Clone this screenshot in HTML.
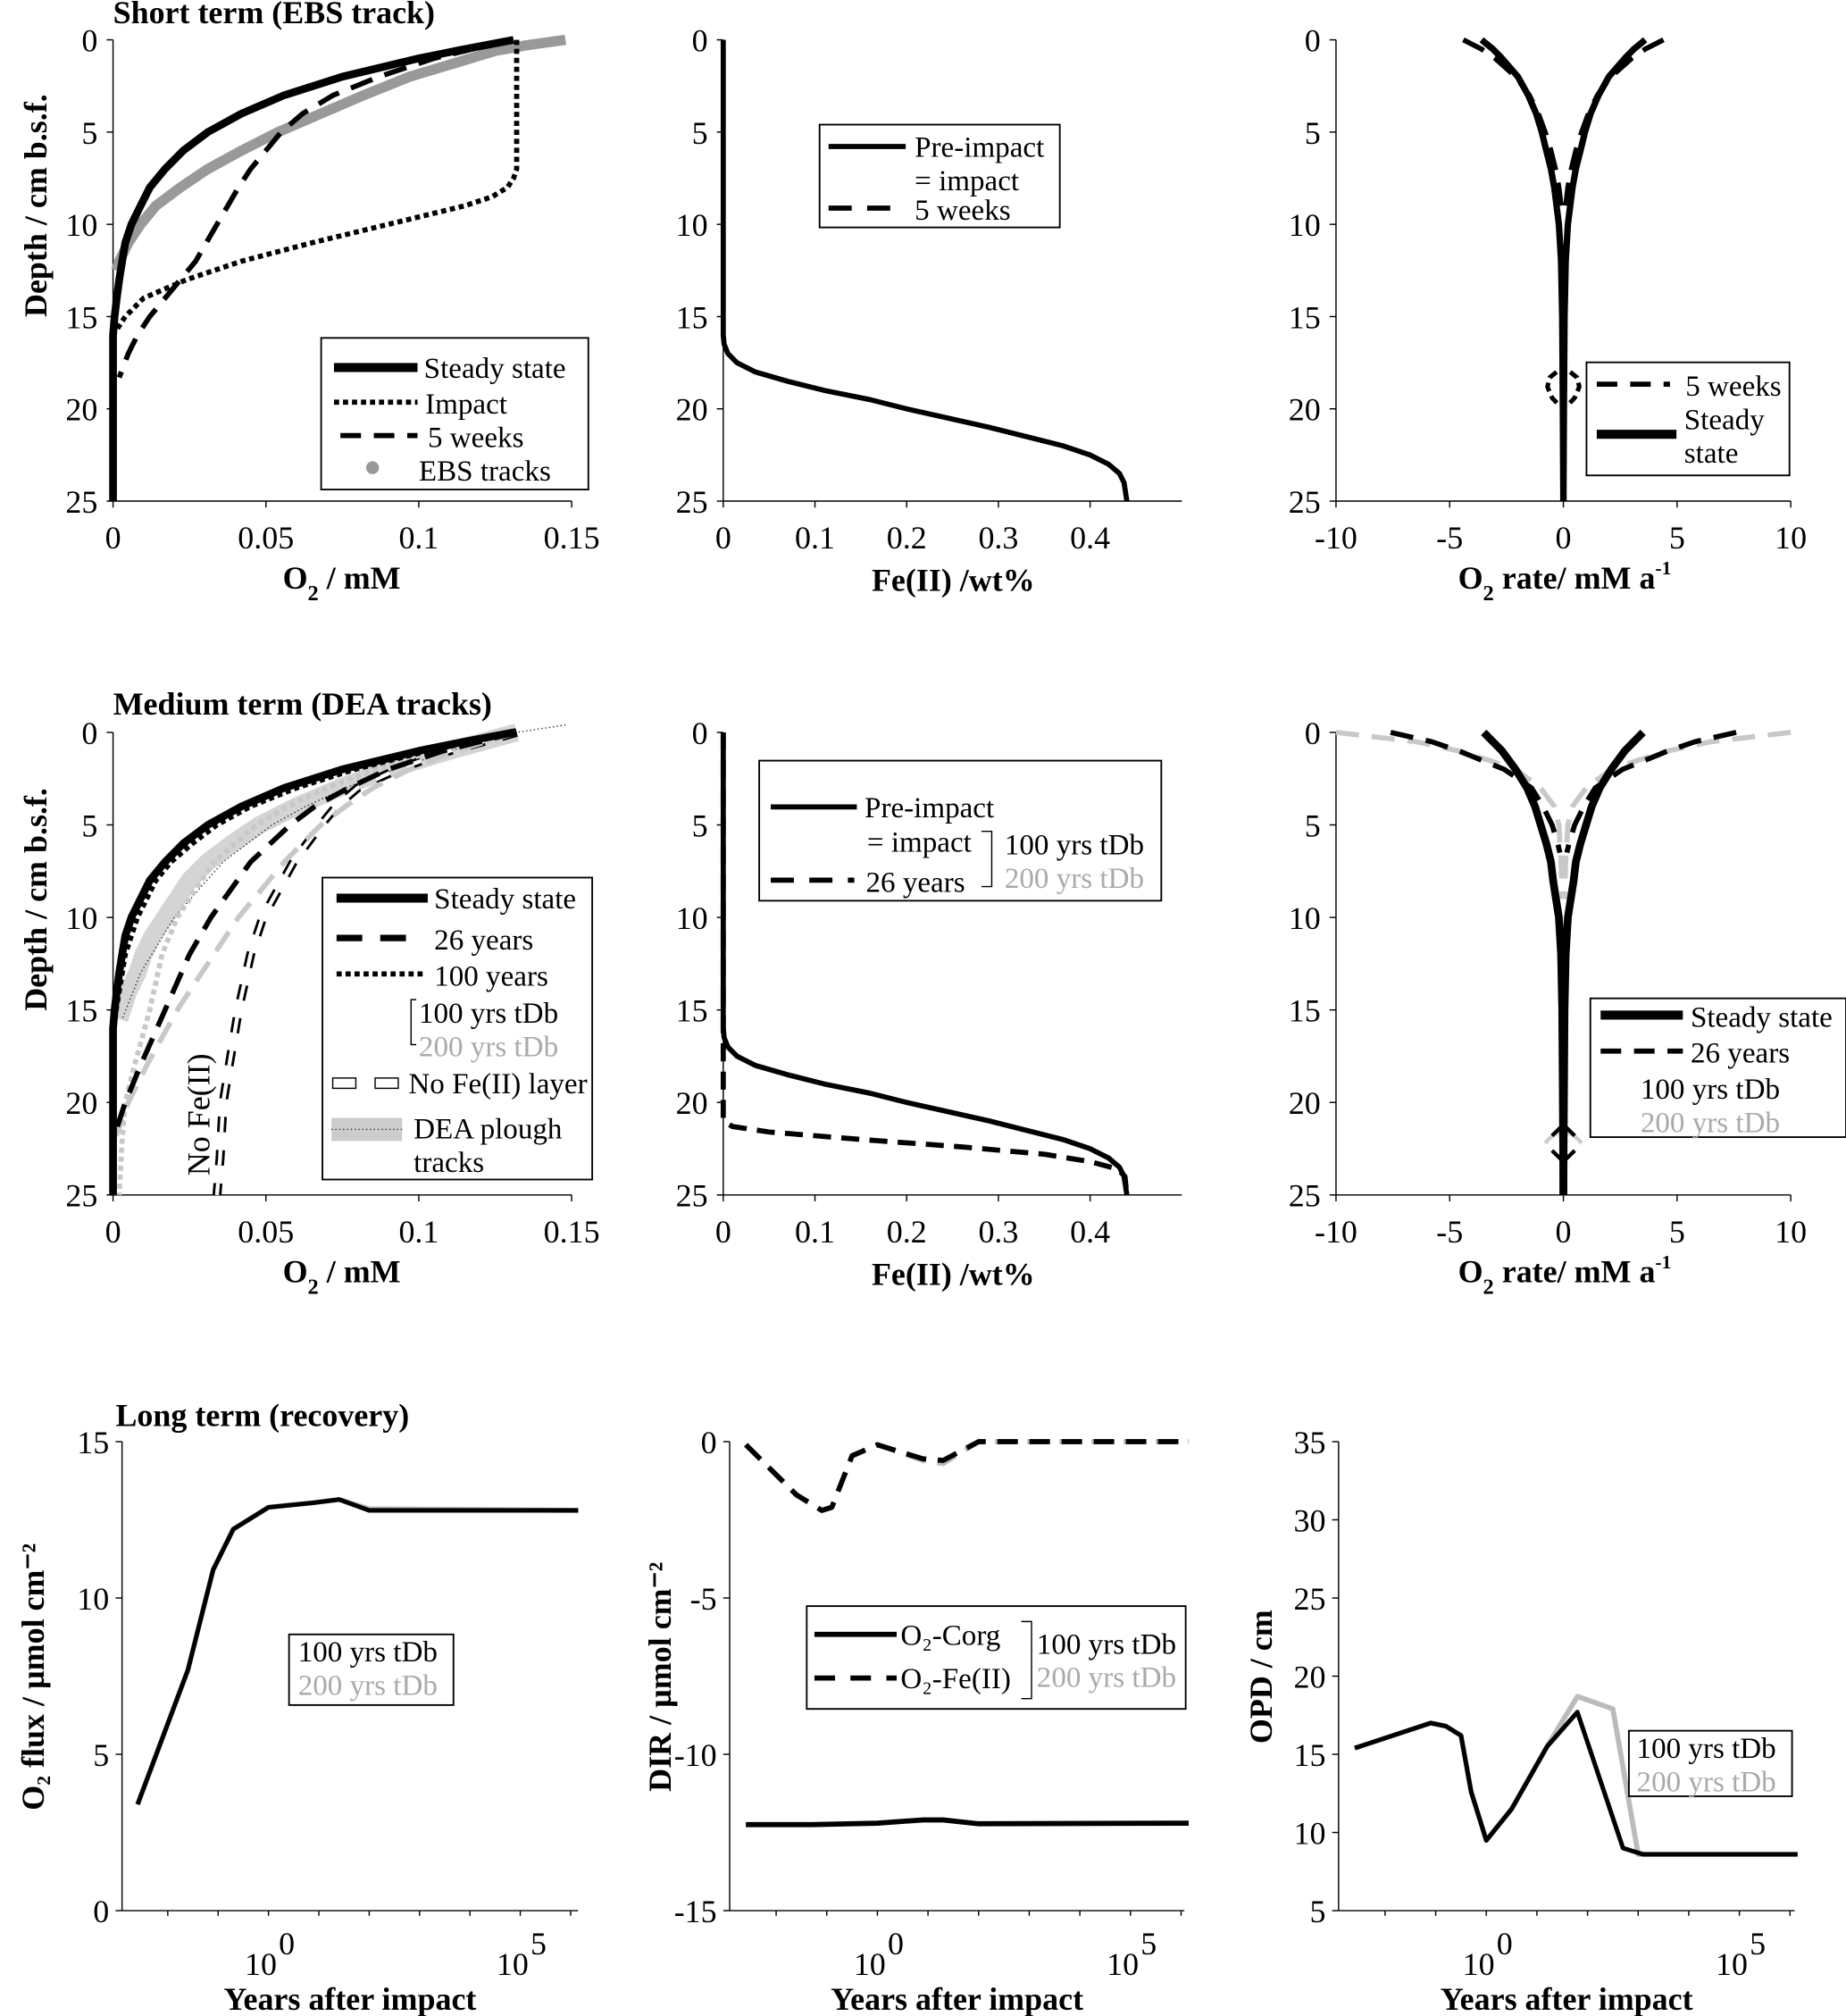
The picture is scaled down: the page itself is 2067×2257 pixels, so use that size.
<!DOCTYPE html>
<html><head><meta charset="utf-8">
<style>
html,body{margin:0;padding:0;background:#fff;}
svg{display:block;font-family:"Liberation Serif",serif;}
.tk{font-size:25px;}
.lab{font-size:25px;font-weight:bold;}
.lg{font-size:23px;}
</style></head>
<body>
<svg id="fig" width="2067" height="2257" viewBox="0 0 1437 1569" preserveAspectRatio="none" xmlns="http://www.w3.org/2000/svg"></svg>
<script>
// ---------- DATA ----------
const aSteadyDepth=[0,0.5,1,2,3,4,5,6,7,8,9,10,11,12,13,14,15,16,25];
const aSteadyO2=[0.131,0.115,0.1,0.075,0.056,0.042,0.031,0.023,0.017,0.012,0.009,0.006,0.004,0.003,0.002,0.0012,0.0005,0,0];
const aImpactDepth=[0,2,4,6,7,7.5,8,8.5,9,10,11,12,13,14,15,15.5,16];
const aImpactO2=[0.132,0.132,0.132,0.132,0.132,0.131,0.129,0.124,0.115,0.09,0.065,0.042,0.024,0.01,0.004,0.002,0];
const a5wDepth=[0,1,2,3,4,5,6,7,8,10,12,13,14,15,16,17,18.3];
const a5wO2=[0.13,0.105,0.087,0.072,0.062,0.055,0.05,0.045,0.041,0.034,0.027,0.022,0.017,0.012,0.008,0.005,0.002];
const aEbsDepth=[0,0.3,0.6,1,2,3,4,5,6,7,8,9,10,11,12,12.5];
const aEbsO2=[0.148,0.135,0.125,0.117,0.097,0.082,0.068,0.054,0.042,0.031,0.022,0.014,0.009,0.005,0.002,0.001];
const feDepth=[0,10,16,16.5,17,17.5,18,18.5,19,19.5,20,20.5,21,21.5,22,22.5,23,23.5,24,25];
const fePre=[0,0,0,0.001,0.005,0.015,0.035,0.07,0.11,0.16,0.2,0.245,0.29,0.33,0.37,0.4,0.42,0.432,0.437,0.44];
const fe26Depth=[0,10,20,21,21.3,21.6,22,22.4,22.8,23.2,23.6,24,25];
const fe26=[0,0,0,0,0.01,0.05,0.15,0.26,0.35,0.4,0.43,0.438,0.44];
const cDepth=[0,0.5,1,2,3,4,5,6,7,8,10,12,15,20,25];
const cSteady=[3.6,3.1,2.7,2.0,1.55,1.2,0.95,0.75,0.55,0.4,0.2,0.1,0.05,0.02,0];
const c5wDepth=[0,0.5,1,2,3,4,5,6,7,8,9];
const c5w=[4.4,3.6,3.0,2.1,1.5,1.1,0.8,0.55,0.35,0.2,0.1];
const cLoopDepth=[18,18.3,18.8,19.4,19.8];
const cLoop=[0.3,0.6,0.7,0.5,0.2];
const dSteadyDepth=aSteadyDepth, dSteadyO2=aSteadyO2;
const d100Depth=[0,1,2,3,4,5,6,7,8,10,12,14,16];
const d100O2=[0.132,0.103,0.079,0.06,0.045,0.034,0.026,0.019,0.014,0.008,0.004,0.002,0];
const d26Depth=[0,1,2,3,4,5,7,10,12,15,18,20,21.5];
const d26O2=[0.132,0.108,0.09,0.077,0.066,0.058,0.045,0.032,0.025,0.017,0.009,0.004,0.001];
const d26gDepth=[0,1,2,3,4,5,7,10,12,15,18,20,21.8];
const d26gO2=[0.132,0.112,0.097,0.085,0.076,0.068,0.056,0.041,0.033,0.021,0.011,0.005,0.001];
const d100gDepth=[0,1,2,3,4,5,7,10,12,15,18,20,22,25];
const d100gO2=[0.132,0.105,0.086,0.07,0.057,0.047,0.033,0.021,0.016,0.012,0.007,0.004,0.003,0.002];
const dNoFeDepth=[0,1,2,3,4,5,7,10,12,15,18,20,23,25];
const dNoFeO2=[0.132,0.11,0.093,0.08,0.073,0.068,0.059,0.049,0.045,0.041,0.038,0.036,0.035,0.034];
const dDeaDepth=[0,1,2,3,4,5,6,7,8,9,10,11,12,13,14,15,15.5];
const dDeaO2=[0.132,0.11,0.09,0.074,0.06,0.048,0.039,0.031,0.025,0.021,0.017,0.013,0.01,0.008,0.005,0.003,0.002];
const dDeaThinDepth=[-0.4,0,1,2,3,4,5,7,10,13,15.5];
const dDeaThinO2=[0.148,0.132,0.11,0.092,0.076,0.063,0.052,0.036,0.02,0.009,0.003];
const fSteadyDepth=[0,1,2,3,4,5,6,7,8,10,12,15,20,25];
const fSteady=[3.5,2.7,2.1,1.6,1.25,1.0,0.75,0.55,0.45,0.2,0.1,0.05,0.02,0];
const f26Depth=[0,0.5,1,1.5,2,3,4,5,6,6.5];
const f26=[7.6,5.8,4.6,3.6,2.6,1.4,0.9,0.5,0.25,0.15];
const f26gDepth=[0,0.5,1,1.5,2,3,4,5,6,7,9];
const f26g=[10,6.5,4.6,3.3,2.1,1.0,0.4,0.2,0.15,0.1,0.05];
const logYears=[-2.6,-1.6,-1.1,-0.7,0,0.9,1.4,2.0,6.15];
const fluxBlack=[3.4,7.7,10.9,12.2,12.9,13.05,13.15,12.8,12.8];
const fluxGrey=[3.4,7.7,10.9,12.2,12.9,13.05,13.15,12.85,12.8];
const dirLogYears=[-2.6,-1.6,-1.1,-0.9,-0.5,0,0.9,1.3,2.0,6.15];
const dirFe=[-0.1,-1.7,-2.2,-2.1,-0.45,-0.1,-0.55,-0.6,0,0];
const dirFeGrey=[-0.1,-1.7,-2.2,-2.1,-0.45,-0.1,-0.6,-0.7,0,0];
const dirCorgLog=[-2.6,-1.3,0,0.9,1.3,2.0,6.15];
const dirCorg=[-12.25,-12.25,-12.2,-12.1,-12.1,-12.22,-12.2];
const opdLog=[-2.6,-1.1,-0.8,-0.5,-0.3,0,0.5,1.2,1.8,2.7,3.1,6.15];
const opdBlack=[15.4,17.0,16.8,16.2,12.6,9.5,11.5,15.5,17.7,9.0,8.6,8.6];
const opdGreyLog=[-2.6,-1.1,-0.8,-0.5,-0.3,0,0.5,1.2,1.8,2.5,3.0,6.15];
const opdGrey=[15.4,17.0,16.8,16.2,12.6,9.5,11.5,15.5,18.7,17.9,8.6,8.6];
const o2Ticks=["0","0.05","0.1","0.15"];
const feTicks=["0","0.1","0.2","0.3","0.4"];
const rateTicks=["-10","-5","0","5","10"];
const depthTicks=["0","5","10","15","20","25"];
const fluxTicks=["15","10","5","0"];
const dirTicks=["0","-5","-10","-15"];
const opdTicks=["35","30","25","20","15","10","5"];

// ---------- HELPERS ----------
const NS="http://www.w3.org/2000/svg";
const svg=document.getElementById('fig');
function el(tag,attrs,parent){const e=document.createElementNS(NS,tag);for(const k in attrs)e.setAttribute(k,attrs[k]);(parent||svg).appendChild(e);return e;}
function txt(x,y,s,cls,extra,parent){const t=el('text',Object.assign({x:x,y:y,class:cls},extra||{}),parent);t.textContent=s;return t;}
function rich(x,y,parts,cls,extra,parent){
  const t=el('text',Object.assign({x:x,y:y,class:cls},extra||{}),parent);
  parts.forEach(p=>{const s=el('tspan',{},t);s.textContent=p[0];
    if(p[1]==='sub'){s.setAttribute('dy','9');s.setAttribute('font-size','17');}
    else if(p[1]==='sup'){s.setAttribute('dy','-11');s.setAttribute('font-size','15');}
    else if(p[1]==='back'){s.setAttribute('dy','-9');}
    else if(p[1]==='back2'){s.setAttribute('dy','11');}
  });
  return t;
}
function lin(d0,d1,p0,p1){return v=>p0+(v-d0)/(d1-d0)*(p1-p0);}
function path(xs,ys,fx,fy,style,name){
  let d='';for(let i=0;i<xs.length;i++){d+=(i?'L':'M')+fx(xs[i]).toFixed(1)+','+fy(ys[i]).toFixed(1);}
  const p=el('path',Object.assign({d:d,fill:'none','stroke-linejoin':'round'},style));
  
  
  return p;
}
function g(name){const e=el('g',{});return e;}
function profileAxes(gp,x0,x1,y0,y1,xt,xlabels){
  el('line',{x1:x0,y1:y0,x2:x0,y2:y1,stroke:'#000','stroke-width':1},gp);
  el('line',{x1:x0,y1:y1,x2:x1,y2:y1,stroke:'#000','stroke-width':1},gp);
  depthTicks.forEach((t,i)=>{const y=y0+i*(y1-y0)/5;el('line',{x1:x0-5,y1:y,x2:x0,y2:y,stroke:'#000'},gp);txt(x0-12,y+9,t,'tk',{'text-anchor':'end'},gp);});
  xt.forEach((px,i)=>{el('line',{x1:px,y1:y1,x2:px,y2:y1+5,stroke:'#000'},gp);txt(px,y1+37,xlabels[i],'tk',{'text-anchor':'middle'},gp);});
}
function dlab(x,y){const gl=el('text',{x:0,y:0,class:'lab',transform:`translate(${x},${y}) rotate(-90)`,'text-anchor':'middle'});gl.textContent='Depth / cm b.s.f.';return gl;}
function box(x,y,w,h,parent){el('rect',{x:x,y:y,width:w,height:h,fill:'#fff',stroke:'#000','stroke-width':1.3},parent);}
function o2lab(cx,y,parent){const t=rich(cx,y,[['O'],['2','sub'],[' / mM','back']],'lab',{'text-anchor':'middle'},parent);}
function ratelab(cx,y,parent){const t=rich(cx,y,[['O'],['2','sub'],[' rate/ mM a','back'],['-1','sup']],'lab',{'text-anchor':'middle'},parent);}

const SOLID={stroke:'#000','stroke-width':5};
const DOT={stroke:'#000','stroke-width':4,'stroke-dasharray':'4 3'};
const DASH={stroke:'#000','stroke-width':4,'stroke-dasharray':'18 10'};
const GDASH={stroke:'#c8c8c8','stroke-width':4,'stroke-dasharray':'18 10'};
const GDOT={stroke:'#c8c8c8','stroke-width':4,'stroke-dasharray':'4 3'};

// ---------- ROW 1 ----------
let Y0=31,Y1=390;
let gA=g('panel-short-term-o2');
let fxA=lin(0,0.15,88,445), fyA=lin(0,25,Y0,Y1);
txt(88,18,'Short term (EBS track)','lab',{'font-size':'23'},gA);
profileAxes(gA,88,445,Y0,Y1,[0,0.05,0.1,0.15].map(fxA),o2Ticks);
path(aEbsO2,aEbsDepth,fxA,fyA,{stroke:'#999','stroke-width':8},'series-ebs-tracks');
path(aImpactO2,aImpactDepth,fxA,fyA,DOT,'series-impact');
path(a5wO2,a5wDepth,fxA,fyA,DASH,'series-5-weeks');
path(aSteadyO2,aSteadyDepth,fxA,fyA,{stroke:'#000','stroke-width':6},'series-steady-state');
dlab(36,160);
o2lab(266,458,gA);
let lA=g('legend-a');box(250,263,208,118,lA);
el('line',{x1:260,y1:286,x2:325,y2:286,stroke:'#000','stroke-width':7},lA);txt(330,294,'Steady state','lg',{},lA);
el('line',{x1:260,y1:313,x2:325,y2:313,stroke:'#000','stroke-width':4,'stroke-dasharray':'4 3'},lA);txt(331,322,'Impact','lg',{},lA);
el('line',{x1:265,y1:339,x2:325,y2:339,stroke:'#000','stroke-width':4,'stroke-dasharray':'16 10'},lA);txt(333,348,'5 weeks','lg',{},lA);
el('circle',{cx:290,cy:364,r:5,fill:'#999'},lA);txt(326,374,'EBS tracks','lg',{},lA);

let gB=g('panel-short-term-fe');
let fxB=lin(0,0.5,563,920);
profileAxes(gB,563,920,Y0,Y1,[0,0.1,0.2,0.3,0.4].map(fxB),feTicks);
path(fePre,feDepth,fxB,fyA,{stroke:'#000','stroke-width':4},'series-pre-impact-fe');
txt(742,460,'Fe(II) /wt%','lab',{'text-anchor':'middle'},gB);
let lB=g('legend-b');box(638,97,187,80,lB);
el('line',{x1:645,y1:114,x2:705,y2:114,stroke:'#000','stroke-width':4},lB);txt(712,122,'Pre-impact','lg',{},lB);
txt(712,148,'= impact','lg',{},lB);
el('line',{x1:645,y1:162,x2:705,y2:162,stroke:'#000','stroke-width':4,'stroke-dasharray':'18 12'},lB);txt(712,171,'5 weeks','lg',{},lB);

let gC=g('panel-short-term-rate');
let fxC=lin(-10,10,1040,1394);
profileAxes(gC,1040,1394,Y0,Y1,[-10,-5,0,5,10].map(fxC),rateTicks);
path(cSteady,cDepth,fxC,fyA,SOLID,'series-steady-rate-right');
path(cSteady.map(v=>-v),cDepth,fxC,fyA,SOLID,'series-steady-rate-left');
path(c5w,c5wDepth,fxC,fyA,DASH,'series-5w-rate-right');
path(c5w.map(v=>-v),c5wDepth,fxC,fyA,DASH,'series-5w-rate-left');
path(cLoop,cLoopDepth,fxC,fyA,{stroke:'#000','stroke-width':3.5,'stroke-dasharray':'7 4'},'series-5w-loop-right');
path(cLoop.map(v=>-v),cLoopDepth,fxC,fyA,{stroke:'#000','stroke-width':3.5,'stroke-dasharray':'7 4'},'series-5w-loop-left');
ratelab(1218,458,gC);
let lC=g('legend-c');box(1235,282,158,88,lC);
el('line',{x1:1243,y1:299,x2:1300,y2:299,stroke:'#000','stroke-width':4,'stroke-dasharray':'16 10'},lC);txt(1312,308,'5 weeks','lg',{},lC);
el('line',{x1:1243,y1:338,x2:1305,y2:338,stroke:'#000','stroke-width':7},lC);txt(1311,334,'Steady','lg',{},lC);txt(1311,360,'state','lg',{},lC);

// ---------- ROW 2 ----------
let Z0=570,Z1=930; let fyD=lin(0,25,Z0,Z1);
let gD=g('panel-medium-term-o2');
txt(88,556,'Medium term (DEA tracks)','lab',{'font-size':'23'},gD);
profileAxes(gD,88,445,Z0,Z1,[0,0.05,0.1,0.15].map(fxA),o2Ticks);
path(dDeaO2,dDeaDepth,fxA,fyD,{stroke:'#d4d4d4','stroke-width':14},'series-dea-plough-band');
path(dDeaThinO2,dDeaThinDepth,fxA,fyD,{stroke:'#333','stroke-width':1,'stroke-dasharray':'1 2'},'series-dea-plough-line');
path(dNoFeO2,dNoFeDepth,fxA,fyD,{stroke:'#000','stroke-width':7,'stroke-dasharray':'12 14'},'series-no-fe-outline');
path(dNoFeO2,dNoFeDepth,fxA,fyD,{stroke:'#fff','stroke-width':3,'stroke-dasharray':'12 14'},'series-no-fe-fill');
path(d100gO2,d100gDepth,fxA,fyD,GDOT,'series-100y-200tdb');
path(d26gO2,d26gDepth,fxA,fyD,GDASH,'series-26y-200tdb');
path(d26O2,d26Depth,fxA,fyD,DASH,'series-26y-100tdb');
path(d100O2,d100Depth,fxA,fyD,DOT,'series-100y-100tdb');
path(dSteadyO2,dSteadyDepth,fxA,fyD,{stroke:'#000','stroke-width':6},'series-steady-state-d');
txt(163,915,'No Fe(II)','tk',{'font-size':'22',transform:'rotate(-90 163 915)'},gD);
dlab(36,700);
o2lab(266,998,gD);
let lD=g('legend-d');box(251,683,210,235,lD);
el('line',{x1:262,y1:699,x2:333,y2:699,stroke:'#000','stroke-width':7},lD);txt(338,707,'Steady state','lg',{},lD);
el('line',{x1:262,y1:730,x2:330,y2:730,stroke:'#000','stroke-width':5,'stroke-dasharray':'20 14'},lD);txt(338,739,'26 years','lg',{},lD);
el('line',{x1:262,y1:758,x2:330,y2:758,stroke:'#000','stroke-width':4,'stroke-dasharray':'4 3'},lD);txt(338,767,'100 years','lg',{},lD);
el('path',{d:'M324,778 L320,778 L320,813 L324,813',fill:'none',stroke:'#000'},lD);
txt(326,796,'100 yrs tDb','lg',{},lD);txt(326,822,'200 yrs tDb','lg',{fill:'#aaa'},lD);
el('rect',{x:259,y:839,width:18,height:8,fill:'#fff',stroke:'#000'},lD);el('rect',{x:292,y:839,width:18,height:8,fill:'#fff',stroke:'#000'},lD);
txt(318,851,'No Fe(II) layer','lg',{},lD);
el('rect',{x:258,y:870,width:55,height:18,fill:'#ccc'},lD);el('line',{x1:258,y1:879,x2:313,y2:879,stroke:'#333','stroke-dasharray':'1 2'},lD);
txt(322,886,'DEA plough','lg',{},lD);txt(322,912,'tracks','lg',{},lD);

let gE=g('panel-medium-term-fe');
profileAxes(gE,563,920,Z0,Z1,[0,0.1,0.2,0.3,0.4].map(fxB),feTicks);
path(fePre,feDepth,fxB,fyD,{stroke:'#000','stroke-width':4},'series-pre-impact-fe-e');
path(fe26,fe26Depth,fxB,fyD,{stroke:'#000','stroke-width':4,'stroke-dasharray':'14 8'},'series-26y-fe');
txt(742,1000,'Fe(II) /wt%','lab',{'text-anchor':'middle'},gE);
let lE=g('legend-e');box(591,592,313,109,lE);
el('line',{x1:600,y1:628,x2:667,y2:628,stroke:'#000','stroke-width':4},lE);txt(673,636,'Pre-impact','lg',{},lE);
txt(675,663,'= impact','lg',{},lE);
el('line',{x1:600,y1:685,x2:665,y2:685,stroke:'#000','stroke-width':4,'stroke-dasharray':'18 12'},lE);txt(674,694,'26 years','lg',{},lE);
el('path',{d:'M764,647 L772,647 L772,690 L764,690',fill:'none',stroke:'#000'},lE);
txt(782,665,'100 yrs tDb','lg',{},lE);txt(782,691,'200 yrs tDb','lg',{fill:'#aaa'},lE);

let gF=g('panel-medium-term-rate');
profileAxes(gF,1040,1394,Z0,Z1,[-10,-5,0,5,10].map(fxC),rateTicks);
path(f26g,f26gDepth,fxC,fyD,GDASH,'series-26y-grey-right');
path(f26g.map(v=>-v),f26gDepth,fxC,fyD,GDASH,'series-26y-grey-left');
path(fSteady,fSteadyDepth,fxC,fyD,{stroke:'#000','stroke-width':6},'series-steady-f-right');
path(fSteady.map(v=>-v),fSteadyDepth,fxC,fyD,{stroke:'#000','stroke-width':6},'series-steady-f-left');
path(f26,f26Depth,fxC,fyD,DASH,'series-26y-right');
path(f26.map(v=>-v),f26Depth,fxC,fyD,DASH,'series-26y-left');
el('path',{d:`M${fxC(-0.8)},${fyD(22.2)} Q${fxC(0)},${fyD(21)} ${fxC(0.8)},${fyD(22.2)}`,fill:'none',stroke:'#ccc','stroke-width':3},gF);
el('path',{d:`M${fxC(-0.5)},${fyD(21.8)} L${fxC(0)},${fyD(21.2)} L${fxC(0.5)},${fyD(21.8)} M${fxC(-0.5)},${fyD(22.6)} L${fxC(0)},${fyD(23.2)} L${fxC(0.5)},${fyD(22.6)}`,fill:'none',stroke:'#000','stroke-width':3},gF);
ratelab(1218,998,gF);
let lF=g('legend-f');box(1238,777,199,108,lF);
el('line',{x1:1246,y1:790,x2:1310,y2:790,stroke:'#000','stroke-width':7},lF);txt(1316,799,'Steady state','lg',{},lF);
el('line',{x1:1246,y1:818,x2:1310,y2:818,stroke:'#000','stroke-width':4,'stroke-dasharray':'16 10'},lF);txt(1316,827,'26 years','lg',{},lF);
txt(1277,855,'100 yrs tDb','lg',{},lF);txt(1277,881,'200 yrs tDb','lg',{fill:'#aaa'},lF);

// ---------- ROW 3 ----------
const B0=1122,B1=1487;
function logAxes(gp,x0,x1,ylabels,xmap){
  el('line',{x1:x0,y1:B0,x2:x0,y2:B1,stroke:'#000'},gp);
  el('line',{x1:x0,y1:B1,x2:x1,y2:B1,stroke:'#000'},gp);
  ylabels.forEach((t,i)=>{const y=B0+i*(B1-B0)/(ylabels.length-1);el('line',{x1:x0-5,y1:y,x2:x0,y2:y,stroke:'#000'},gp);txt(x0-10,y+9,t,'tk',{'text-anchor':'end'},gp);});
  for(let k=-3;k<=6;k++){const px=xmap(k);if(px>=x0&&px<=x1)el('line',{x1:px,y1:B1,x2:px,y2:B1+4,stroke:'#000'},gp);}
  [0,5].forEach(k=>{const px=xmap(k);txt(px-6,B1+50,'10','tk',{'text-anchor':'middle'},gp);txt(px+8,B1+34,String(k),'tk',{'font-size':'15'},gp);});
  txt((x0+x1)/2,B1+77,'Years after impact','lab',{'text-anchor':'middle','font-size':'24'},gp);
}
let gG=g('panel-o2-flux');
let fxG=lin(0,5,209,405), fyG=lin(0,15,B1,B0);
txt(90,1110,'Long term (recovery)','lab',{'font-size':'22'},gG);
logAxes(gG,95,450,fluxTicks,fxG);
path(logYears,fluxGrey,fxG,fyG,{stroke:'#bbb','stroke-width':4},'series-flux-200tdb');
path(logYears,fluxBlack,fxG,fyG,{stroke:'#000','stroke-width':3.5},'series-flux-100tdb');
let yl=el('text',{x:0,y:0,class:'lab',transform:'translate(34,1305) rotate(-90)','text-anchor':'middle'});yl.textContent='O₂ flux / µmol cm⁻²';

let lG=g('legend-g');box(225,1272,128,55,lG);txt(232,1293,'100 yrs tDb','lg',{},lG);txt(232,1319,'200 yrs tDb','lg',{fill:'#aaa'},lG);
let gH=g('panel-dir');
let fxH=lin(0,5,683,880), fyH=lin(0,-15,B0,B1);
logAxes(gH,568,922,dirTicks,fxH);
path(dirLogYears,dirFeGrey,fxH,fyH,{stroke:'#bbb','stroke-width':4,'stroke-dasharray':'16 9'},'series-dir-fe-200tdb');
path(dirLogYears,dirFe,fxH,fyH,{stroke:'#000','stroke-width':4,'stroke-dasharray':'16 9'},'series-dir-fe-100tdb');
path(dirCorgLog,dirCorg,fxH,fyH,{stroke:'#000','stroke-width':4},'series-dir-corg');
let yl2=el('text',{x:0,y:0,class:'lab',transform:'translate(522,1305) rotate(-90)','text-anchor':'middle'});yl2.textContent='DIR / µmol cm⁻²';

let lH=g('legend-h');box(628,1250,295,80,lH);
el('line',{x1:634,y1:1272,x2:698,y2:1272,stroke:'#000','stroke-width':4},lH);txt(701,1280,'O₂-Corg','lg',{},lH);
el('line',{x1:634,y1:1306,x2:698,y2:1306,stroke:'#000','stroke-width':4,'stroke-dasharray':'16 12'},lH);txt(701,1314,'O₂-Fe(II)','lg',{},lH);
el('path',{d:'M795,1262 L803,1262 L803,1322 L795,1322',fill:'none',stroke:'#000'},lH);
txt(807,1287,'100 yrs tDb','lg',{},lH);txt(807,1313,'200 yrs tDb','lg',{fill:'#aaa'},lH);
let gI=g('panel-opd');
let fxI=lin(0,5,1157,1354), fyI=lin(5,35,B1,B0);
logAxes(gI,1042,1397,opdTicks,fxI);
path(opdGreyLog,opdGrey,fxI,fyI,{stroke:'#bbb','stroke-width':4},'series-opd-200tdb');
path(opdLog,opdBlack,fxI,fyI,{stroke:'#000','stroke-width':3.5},'series-opd-100tdb');
let yl3=el('text',{x:0,y:0,class:'lab',transform:'translate(990,1305) rotate(-90)','text-anchor':'middle'});yl3.textContent='OPD / cm';

let lI=g('legend-i');box(1268,1347,127,51,lI);txt(1274,1368,'100 yrs tDb','lg',{},lI);txt(1274,1394,'200 yrs tDb','lg',{fill:'#aaa'},lI);
</script>
</body></html>
